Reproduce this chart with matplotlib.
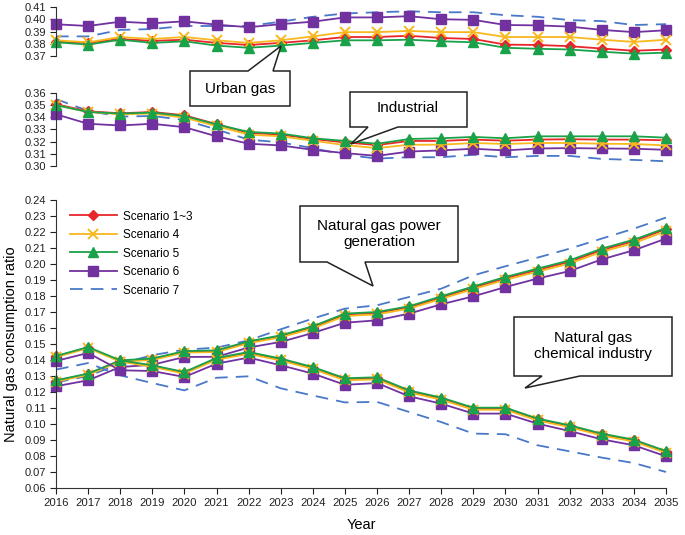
import matplotlib
matplotlib.use("Agg")
import matplotlib.pyplot as plt
from matplotlib.patches import Polygon

plt.rcParams['font.family'] = ['Liberation Sans', 'DejaVu Sans']

years = list(range(2016, 2036))

# urban gas (top panel)
urban_s13 = [0.3817, 0.3807, 0.3839, 0.3823, 0.3833, 0.3807, 0.3790, 0.3807, 0.3828, 0.3855,
             0.3855, 0.3865, 0.3847, 0.3839, 0.3793, 0.3790, 0.3780, 0.3761, 0.3743, 0.3753]
urban_s4 = [0.3828, 0.3812, 0.3855, 0.3839, 0.3855, 0.3828, 0.3807, 0.3828, 0.3860, 0.3895,
            0.3895, 0.3905, 0.3895, 0.3895, 0.3855, 0.3855, 0.3855, 0.3833, 0.3815, 0.3833]
urban_s5 = [0.3812, 0.3793, 0.3833, 0.3807, 0.3820, 0.3785, 0.3767, 0.3785, 0.3807, 0.3828,
            0.3828, 0.3833, 0.3820, 0.3812, 0.3767, 0.3759, 0.3753, 0.3735, 0.3719, 0.3727]
urban_s6 = [0.3959, 0.3945, 0.3980, 0.3967, 0.3983, 0.3956, 0.3935, 0.3960, 0.3980, 0.4015,
            0.4015, 0.4025, 0.4000, 0.3995, 0.3953, 0.3950, 0.3940, 0.3913, 0.3895, 0.3910]
urban_s7 = [0.3860, 0.3860, 0.3913, 0.3920, 0.3945, 0.3945, 0.3945, 0.3980, 0.4020, 0.4047,
            0.4057, 0.4065, 0.4057, 0.4057, 0.4033, 0.4020, 0.3993, 0.3985, 0.3953, 0.3960]

# industrial (middle panel)
ind_s13 = [0.3508, 0.3450, 0.3433, 0.3444, 0.3417, 0.3344, 0.3272, 0.3258, 0.3222, 0.3194,
           0.3172, 0.3206, 0.3206, 0.3217, 0.3208, 0.3217, 0.3220, 0.3217, 0.3217, 0.3211]
ind_s4 = [0.3500, 0.3444, 0.3425, 0.3431, 0.3397, 0.3328, 0.3258, 0.3244, 0.3208, 0.3172,
          0.3147, 0.3175, 0.3175, 0.3189, 0.3181, 0.3189, 0.3189, 0.3183, 0.3181, 0.3169]
ind_s5 = [0.3500, 0.3444, 0.3431, 0.3439, 0.3411, 0.3342, 0.3280, 0.3267, 0.3228, 0.3206,
          0.3183, 0.3222, 0.3228, 0.3239, 0.3228, 0.3244, 0.3244, 0.3244, 0.3244, 0.3233]
ind_s6 = [0.3425, 0.3347, 0.3333, 0.3347, 0.3319, 0.3244, 0.3183, 0.3169, 0.3133, 0.3106,
          0.3083, 0.3119, 0.3128, 0.3142, 0.3128, 0.3144, 0.3147, 0.3144, 0.3142, 0.3133]
ind_s7 = [0.3550, 0.3453, 0.3406, 0.3411, 0.3378, 0.3300, 0.3217, 0.3194, 0.3147, 0.3092,
          0.3061, 0.3072, 0.3072, 0.3092, 0.3072, 0.3083, 0.3083, 0.3058, 0.3050, 0.3039]

# natural gas power generation (bottom panel, rising)
pow_s13 = [0.1270, 0.1312, 0.1395, 0.1405, 0.1452, 0.1456, 0.1512, 0.1549, 0.1605, 0.1684,
           0.1694, 0.1730, 0.1791, 0.1853, 0.1911, 0.1963, 0.2014, 0.2087, 0.2143, 0.2218]
pow_s4 = [0.1265, 0.1307, 0.1390, 0.1400, 0.1446, 0.1450, 0.1505, 0.1542, 0.1597, 0.1675,
          0.1685, 0.1721, 0.1782, 0.1843, 0.1901, 0.1952, 0.2003, 0.2076, 0.2131, 0.2205]
pow_s5 = [0.1273, 0.1315, 0.1398, 0.1409, 0.1456, 0.1460, 0.1517, 0.1554, 0.1611, 0.1690,
          0.1700, 0.1736, 0.1798, 0.1860, 0.1919, 0.1971, 0.2023, 0.2096, 0.2152, 0.2225]
pow_s6 = [0.1236, 0.1273, 0.1356, 0.1370, 0.1419, 0.1420, 0.1478, 0.1513, 0.1569, 0.1633,
          0.1648, 0.1690, 0.1748, 0.1798, 0.1856, 0.1909, 0.1956, 0.2029, 0.2086, 0.2159]
pow_s7 = [0.1260, 0.1300, 0.1377, 0.1430, 0.1465, 0.1477, 0.1523, 0.1592, 0.1659, 0.1721,
          0.1742, 0.1794, 0.1846, 0.1929, 0.1986, 0.2040, 0.2096, 0.2159, 0.2221, 0.2290]

# natural gas chemical industry (bottom panel, falling)
chem_s13 = [0.1422, 0.1478, 0.1394, 0.1362, 0.1320, 0.1408, 0.1444, 0.1403, 0.1350, 0.1280,
            0.1286, 0.1204, 0.1159, 0.1096, 0.1096, 0.1029, 0.0987, 0.0935, 0.0897, 0.0826]
chem_s4 = [0.1418, 0.1474, 0.1390, 0.1357, 0.1315, 0.1402, 0.1438, 0.1397, 0.1344, 0.1273,
           0.1279, 0.1197, 0.1152, 0.1089, 0.1089, 0.1022, 0.0980, 0.0928, 0.0890, 0.0820]
chem_s5 = [0.1425, 0.1481, 0.1398, 0.1367, 0.1325, 0.1413, 0.1450, 0.1409, 0.1356, 0.1286,
           0.1292, 0.1210, 0.1165, 0.1102, 0.1102, 0.1034, 0.0992, 0.0940, 0.0902, 0.0831]
chem_s6 = [0.1394, 0.1444, 0.1336, 0.1331, 0.1294, 0.1377, 0.1415, 0.1367, 0.1315, 0.1245,
           0.1256, 0.1173, 0.1127, 0.1065, 0.1065, 0.1002, 0.0956, 0.0904, 0.0867, 0.0798]
chem_s7 = [0.1340, 0.1381, 0.1304, 0.1256, 0.1210, 0.1289, 0.1298, 0.1223, 0.1178, 0.1135,
           0.1138, 0.1075, 0.1012, 0.0940, 0.0936, 0.0867, 0.0829, 0.0790, 0.0756, 0.0700]

labels = ['Scenario 1~3', 'Scenario 4', 'Scenario 5', 'Scenario 6', 'Scenario 7']
styles = {
    'Scenario 1~3': dict(color='#E8262A', marker='D', ms=5.5, lw=1.3),
    'Scenario 4': dict(color='#F8B81E', marker='x', ms=7, mew=1.4, lw=1.3),
    'Scenario 5': dict(color='#1AA24A', marker='^', ms=7, lw=1.3),
    'Scenario 6': dict(color='#7132A0', marker='s', ms=6.5, lw=1.3),
    'Scenario 7': dict(color='#4A78C8', ls=(0, (7, 4.5)), lw=1.3),
}
draw_order = ['Scenario 7', 'Scenario 6', 'Scenario 1~3', 'Scenario 4', 'Scenario 5']

W, H = 685, 535
fig = plt.figure(figsize=(W / 100, H / 100), dpi=100)

def px_axes(top_px, bot_px):
    l, r = 56 / W, 666 / W
    return fig.add_axes([l, 1 - bot_px / H, r - l, (bot_px - top_px) / H])

ax_top = px_axes(7, 56)
ax_mid = px_axes(93, 166)
ax_bot = px_axes(200, 488)

panels = [
    (ax_top, [urban_s13, urban_s4, urban_s5, urban_s6, urban_s7]),
    (ax_mid, [ind_s13, ind_s4, ind_s5, ind_s6, ind_s7]),
    (ax_bot, [pow_s13, pow_s4, pow_s5, pow_s6, pow_s7]),
    (ax_bot, [chem_s13, chem_s4, chem_s5, chem_s6, chem_s7]),
]
handles = {}
for ax, series in panels:
    data = dict(zip(labels, series))
    for name in draw_order:
        h, = ax.plot(years, data[name], clip_on=False, **styles[name])
        handles[name] = h

for ax in (ax_top, ax_mid, ax_bot):
    ax.set_xlim(2016, 2035)
    for s in ('top', 'right'):
        ax.spines[s].set_visible(False)
    ax.spines['left'].set_color('#333333')
    ax.tick_params(axis='y', direction='out', length=4, pad=3, labelsize=8, colors='#222222')
    ax.patch.set_alpha(0)

for ax in (ax_top, ax_mid):
    ax.spines['bottom'].set_visible(False)
    ax.set_xticks([])

ax_top.set_ylim(0.37, 0.41)
ax_top.set_yticks([0.37, 0.38, 0.39, 0.40, 0.41])
ax_mid.set_ylim(0.30, 0.36)
ax_mid.set_yticks([0.30, 0.31, 0.32, 0.33, 0.34, 0.35, 0.36])
ax_bot.set_ylim(0.06, 0.24)
ax_bot.set_yticks([i / 100 for i in range(6, 25)])
for ax in (ax_top, ax_mid, ax_bot):
    ax.set_yticklabels(['%.2f' % t for t in ax.get_yticks()])

ax_bot.spines['bottom'].set_color('#333333')
ax_bot.set_xticks(years)
ax_bot.tick_params(axis='x', direction='out', length=4, labelsize=8.2, colors='#222222')
ax_bot.set_xlabel('Year', fontsize=10.5, labelpad=7)
ax_bot.set_ylabel('Natural gas consumption ratio', fontsize=10.5)
ax_bot.yaxis.set_label_coords(-0.062, 0.5)

ax_bot.legend([handles[n] for n in labels], labels, loc='upper left',
              bbox_to_anchor=(0.005, 1.0), frameon=False, fontsize=8.5,
              handlelength=4.0, handletextpad=0.5, labelspacing=0.55)

# callout boxes, pixel coords from top-left
def callout(box, base, tip, text, tx, ty):
    x0, y0, x1, y1 = box
    xa, xb, edge = base
    if edge == 'top':
        pts = [(x0, y0), (xa, y0), tip, (xb, y0), (x1, y0), (x1, y1), (x0, y1)]
    else:
        pts = [(x0, y0), (x1, y0), (x1, y1), (xb, y1), tip, (xa, y1), (x0, y1)]
    pts = [(x / W, 1 - y / H) for x, y in pts]
    fig.patches.append(Polygon(pts, closed=True, transform=fig.transFigure,
                               facecolor='white', edgecolor='#222222', lw=1.1, zorder=10))
    fig.text(tx / W, 1 - ty / H, text, ha='center', va='center', fontsize=11,
             linespacing=1.25, zorder=11)

callout((190, 71, 290, 106), (248, 273, 'top'), (281, 46), 'Urban gas', 240, 89)
callout((350, 92, 467, 127), (368, 398, 'bottom'), (351, 144), 'Industrial', 408, 108)
callout((300, 206, 458, 262), (327, 365, 'bottom'), (373, 286),
        'Natural gas power\ngeneration', 379, 234)
callout((514, 317, 672, 376), (542, 580, 'bottom'), (525, 388),
        'Natural gas\nchemical industry', 593, 346)

fig.savefig('out.png', dpi=100)
